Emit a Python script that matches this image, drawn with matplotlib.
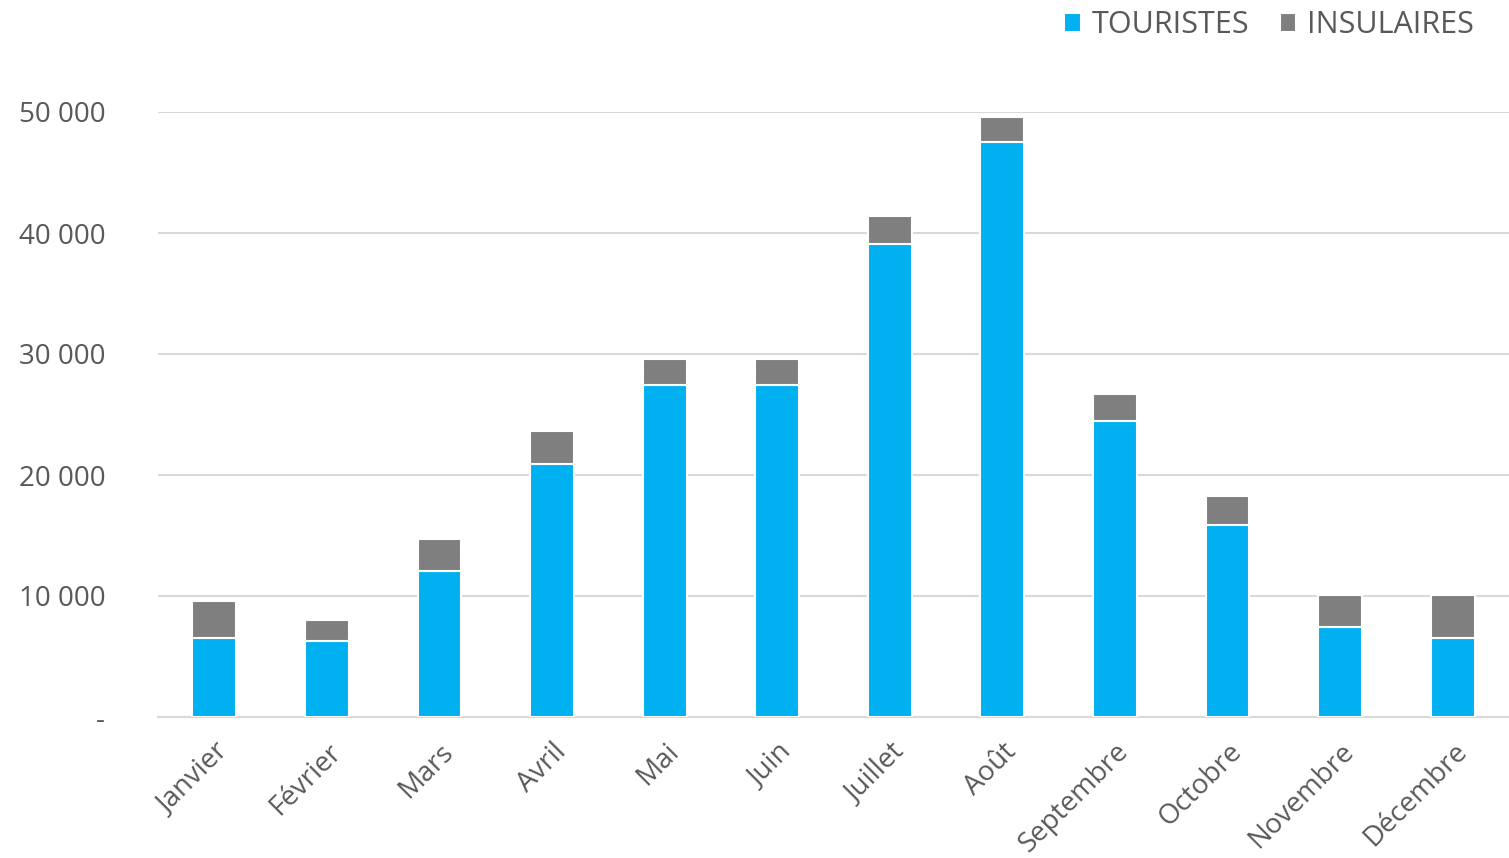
import matplotlib
matplotlib.use("Agg")
import matplotlib.pyplot as plt
import numpy as np

plt.rcParams["font.family"] = ["Open Sans", "DejaVu Sans"]

mois = ["Janvier", "Février", "Mars", "Avril", "Mai", "Juin", "Juillet",
        "Août", "Septembre", "Octobre", "Novembre", "Décembre"]
touristes = [6500, 6300, 12100, 20900, 27400, 27400, 39100, 47500, 24500, 15900, 7400, 6500]
totaux = [9600, 8000, 14700, 23600, 29600, 29600, 41400, 49600, 26700, 18300, 10100, 10100]
insulaires = [t - u for t, u in zip(totaux, touristes)]
yticks = [0, 10000, 20000, 30000, 40000, 50000]
ylabels = ["-", "10 000", "20 000", "30 000", "40 000", "50 000"]

bleu = "#00B0F0"
gris = "#7F7F7F"
texte = "#595959"

fig = plt.figure(figsize=(15.09, 8.58), dpi=100)
ax = fig.add_axes([158 / 1509, 141 / 858, 1351 / 1509, 605 / 858])

x = np.arange(len(mois))
ax.bar(x, touristes, width=0.39, color=bleu, edgecolor="white", linewidth=1.5,
       label="TOURISTES", zorder=3)
ax.bar(x, insulaires, width=0.39, bottom=touristes, color=gris, edgecolor="white",
       linewidth=1.5, label="INSULAIRES", zorder=3)

ax.set_xlim(-0.5, 11.5)
ax.set_ylim(0, 50000)
ax.set_yticks(yticks)
ax.set_yticklabels(ylabels, fontsize=20, color=texte)
ax.yaxis.grid(True, color="#D9D9D9", linewidth=1.5, zorder=0)
ax.tick_params(axis="y", length=0, pad=38)
ax.tick_params(axis="x", length=0, pad=15)
ax.set_xticks(x)
ax.set_xticklabels(mois, rotation=45, ha="right", rotation_mode="anchor",
                   fontsize=20, color=texte)
for s in ["top", "right", "left"]:
    ax.spines[s].set_visible(False)
ax.spines["bottom"].set_color("#D9D9D9")
ax.spines["bottom"].set_linewidth(1.5)

fig.legend(loc="upper right", bbox_to_anchor=(0.995, 1.02), ncol=2, frameon=False,
           fontsize=22, handlelength=0.55, handleheight=0.55, handletextpad=0.35,
           columnspacing=1.0, labelcolor=texte)

fig.savefig("out.png", dpi=100)
plt.close(fig)
